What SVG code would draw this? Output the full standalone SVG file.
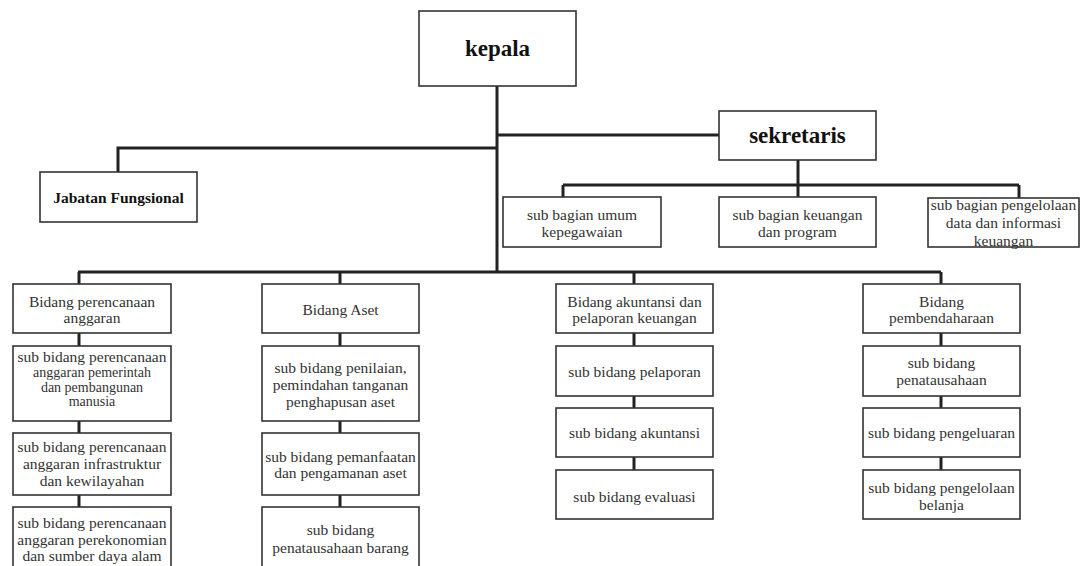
<svg xmlns="http://www.w3.org/2000/svg" width="1081" height="566" viewBox="0 0 1081 566">
<style>
.box{fill:#fff;stroke:#333;stroke-width:1.6}
.con{fill:none;stroke:#222;stroke-width:3}
.t{font-family:"Liberation Serif","Times New Roman",serif;font-size:15.5px;fill:#333;text-anchor:middle}
.s{font-size:14px}
.b{font-family:"Liberation Serif","Times New Roman",serif;font-weight:bold;fill:#111;text-anchor:middle}
</style>
<rect width="1081" height="566" fill="#fff"/>
<g id="connectors">
<path class="con" d="M497,86V272M497,135H719M497,148H118V172"/>
<path class="con" d="M798,160V185M563,185H1019M563,185V197M798,185V197M1019,185V198"/>
<path class="con" d="M78,272H941M79,272V284M340,272V284M634,272V284M941,272V284"/>
<path class="con" d="M79,333V346M79,421V433M79,495V507"/>
<path class="con" d="M340,333V346M340,421V433M340,495V507"/>
<path class="con" d="M634,333V346M634,396V408M634,457V470"/>
<path class="con" d="M941,333V346M941,396V408M941,457V470"/>
</g>
<g id="kepala"><rect class="box" x="419" y="11" width="157" height="75"/><text class="b" x="497.5" y="56" font-size="23">kepala</text></g>
<g id="sekretaris"><rect class="box" x="719" y="111" width="157" height="49"/><text class="b" x="797.5" y="143" font-size="23">sekretaris</text></g>
<g id="jabatan"><rect class="box" x="40" y="172" width="157" height="50"/><text class="b" x="118.5" y="203" font-size="15.5">Jabatan Fungsional</text></g>
<g id="umum"><rect class="box" x="503" y="197" width="158" height="50"/><text class="t" x="582" y="220">sub bagian umum</text><text class="t" x="582" y="237">kepegawaian</text></g>
<g id="keuangan"><rect class="box" x="719" y="197" width="157" height="50"/><text class="t" x="797.5" y="220">sub bagian keuangan</text><text class="t" x="797.5" y="237">dan program</text></g>
<g id="pengelolaan"><rect class="box" x="928" y="198" width="151" height="49"/><text class="t" x="1003.5" y="210">sub bagian pengelolaan</text><text class="t" x="1003.5" y="228">data dan informasi</text><text class="t" x="1003.5" y="246">keuangan</text></g>
<g id="col1-bidang"><rect class="box" x="13" y="284" width="158" height="49"/><text class="t" x="92" y="307">Bidang perencanaan</text><text class="t" x="92" y="323">anggaran</text></g>
<g id="col1-sub1"><rect class="box" x="13" y="346" width="158" height="75"/><text class="t" x="92" y="362">sub bidang perencanaan</text><text class="t s" x="92" y="377">anggaran pemerintah</text><text class="t s" x="92" y="391.5">dan pembangunan</text><text class="t s" x="92" y="406">manusia</text></g>
<g id="col1-sub2"><rect class="box" x="13" y="433" width="158" height="62"/><text class="t" x="92" y="452">sub bidang perencanaan</text><text class="t" x="92" y="469">anggaran infrastruktur</text><text class="t" x="92" y="486">dan kewilayahan</text></g>
<g id="col1-sub3"><rect class="box" x="13" y="507" width="158" height="70"/><text class="t" x="92" y="528">sub bidang perencanaan</text><text class="t" x="92" y="545">anggaran perekonomian</text><text class="t" x="92" y="561">dan sumber daya alam</text></g>
<g id="col2-bidang"><rect class="box" x="262" y="284" width="157" height="49"/><text class="t" x="340.5" y="315">Bidang Aset</text></g>
<g id="col2-sub1"><rect class="box" x="262" y="346" width="157" height="75"/><text class="t" x="340.5" y="373">sub bidang penilaian,</text><text class="t" x="340.5" y="390">pemindahan tanganan</text><text class="t" x="340.5" y="407">penghapusan aset</text></g>
<g id="col2-sub2"><rect class="box" x="262" y="433" width="157" height="62"/><text class="t" x="340.5" y="462">sub bidang pemanfaatan</text><text class="t" x="340.5" y="478">dan pengamanan aset</text></g>
<g id="col2-sub3"><rect class="box" x="262" y="507" width="157" height="70"/><text class="t" x="340.5" y="535">sub bidang</text><text class="t" x="340.5" y="553">penatausahaan barang</text></g>
<g id="col3-bidang"><rect class="box" x="556" y="284" width="157" height="49"/><text class="t" x="634.5" y="307">Bidang akuntansi dan</text><text class="t" x="634.5" y="323">pelaporan keuangan</text></g>
<g id="col3-sub1"><rect class="box" x="556" y="346" width="157" height="50"/><text class="t" x="634.5" y="377">sub bidang pelaporan</text></g>
<g id="col3-sub2"><rect class="box" x="556" y="408" width="157" height="49"/><text class="t" x="634.5" y="438">sub bidang akuntansi</text></g>
<g id="col3-sub3"><rect class="box" x="556" y="470" width="157" height="49"/><text class="t" x="634.5" y="502">sub bidang evaluasi</text></g>
<g id="col4-bidang"><rect class="box" x="863" y="284" width="157" height="49"/><text class="t" x="941.5" y="307">Bidang</text><text class="t" x="941.5" y="323">pembendaharaan</text></g>
<g id="col4-sub1"><rect class="box" x="863" y="346" width="157" height="50"/><text class="t" x="941.5" y="368">sub bidang</text><text class="t" x="941.5" y="385">penatausahaan</text></g>
<g id="col4-sub2"><rect class="box" x="863" y="408" width="157" height="49"/><text class="t" x="941.5" y="438">sub bidang pengeluaran</text></g>
<g id="col4-sub3"><rect class="box" x="863" y="470" width="157" height="49"/><text class="t" x="941.5" y="493">sub bidang pengelolaan</text><text class="t" x="941.5" y="510">belanja</text></g>
</svg>
